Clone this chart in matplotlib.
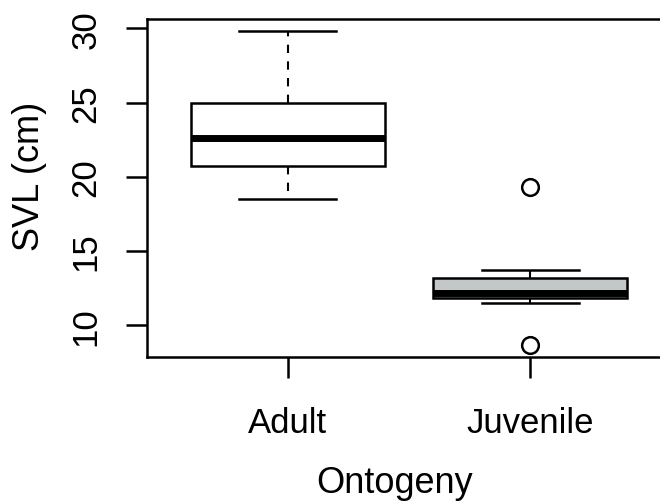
import numpy as np
import matplotlib
matplotlib.use('Agg')
import matplotlib.pyplot as plt

# box summaries
groups = ['Adult', 'Juvenile']
q1 = [20.7, 11.85]
med = [22.6, 12.2]
q3 = [25.0, 13.2]
whislo = [18.5, 11.5]
whishi = [29.8, 13.7]
fliers = [[], [19.3, 8.7]]
fills = ['white', '#c2c8c8']

plt.rcParams['font.family'] = ['Liberation Sans', 'DejaVu Sans']

fig = plt.figure(figsize=(6.6, 5.02), dpi=100)
# R-style plot region, right edge falls outside the image
ax = fig.add_axes([147/660, 1-358/502, 524/660, 338/502])

stats = []
for i in range(len(groups)):
    stats.append(dict(label=groups[i], q1=q1[i], med=med[i], q3=q3[i],
                      whislo=whislo[i], whishi=whishi[i], fliers=fliers[i]))

lw = 1.8
bp = ax.bxp(stats, positions=[1, 2], widths=0.8, patch_artist=True,
            boxprops=dict(linewidth=lw, edgecolor='black'),
            medianprops=dict(linewidth=5, color='black', solid_capstyle='butt'),
            whiskerprops=dict(linewidth=1.5, color='black', linestyle=(0, (4, 4))),
            capprops=dict(linewidth=lw, color='black'),
            capwidths=0.4,
            flierprops=dict(marker='o', markersize=12, markerfacecolor='none',
                            markeredgecolor='black', markeredgewidth=lw))
for patch, c in zip(bp['boxes'], fills):
    patch.set_facecolor(c)

ax.set_xlim(0.42, 2.58)
ax.set_ylim(7.86, 30.64)
ax.set_yticks([10, 15, 20, 25, 30])

for s in ax.spines.values():
    s.set_linewidth(lw)

ax.tick_params(axis='both', length=15, width=lw, labelsize=25)
ax.tick_params(axis='y', labelrotation=90, pad=17)
ax.tick_params(axis='x', pad=20)
for lab in ax.get_yticklabels():
    lab.set_va('center')

ax.set_xlabel('Ontogeny', fontsize=26)
ax.set_ylabel('SVL (cm)', fontsize=26)
ax.xaxis.set_label_coords(0.473, -0.32)
ax.yaxis.set_label_coords(-0.19, 0.538)

fig.savefig('out.png', dpi=100)
